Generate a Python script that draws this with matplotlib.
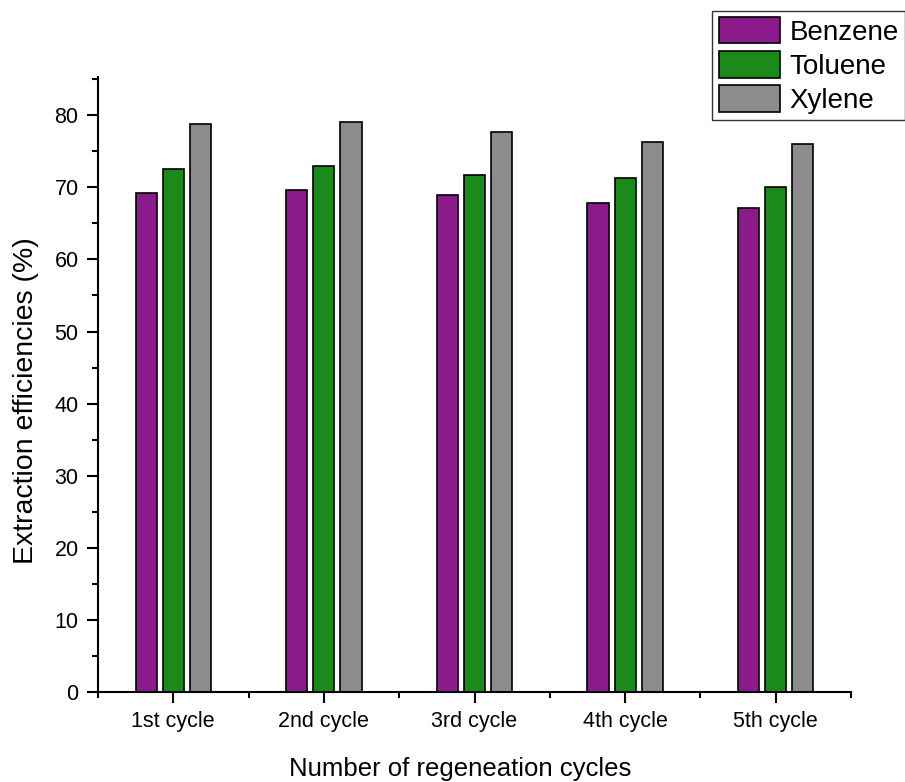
import matplotlib.pyplot as plt
import numpy as np

plt.rcParams['font.family'] = ['Liberation Sans', 'DejaVu Sans']

cycles = ['1st cycle', '2nd cycle', '3rd cycle', '4th cycle', '5th cycle']
benzene = [69.2, 69.6, 68.9, 67.8, 67.1]
toluene = [72.6, 73.0, 71.7, 71.3, 70.1]
xylene = [78.8, 79.0, 77.7, 76.3, 76.0]

colors = ['#8B1A8B', '#1B8A1B', '#8C8C8C']
names = ['Benzene', 'Toluene', 'Xylene']

fig = plt.figure(figsize=(9.05, 7.82), dpi=100)
ax = fig.add_axes([98 / 905, 90 / 782, (851 - 98) / 905, (692 - 77) / 782])

x = np.arange(1, len(cycles) + 1)
width = 0.14
step = 0.18
for i, (vals, c, n) in enumerate(zip([benzene, toluene, xylene], colors, names)):
    ax.bar(x + (i - 1) * step, vals, width, color=c, edgecolor='black',
           linewidth=1.2, label=n)

ax.set_xlim(0.5, 5.5)
ax.set_ylim(0, 85.3)
ax.set_xticks(x)
ax.set_xticklabels(cycles)
ax.set_xticks(np.arange(0.5, 6.0, 1.0), minor=True)
ax.set_yticks(np.arange(0, 81, 10))
ax.set_yticks(np.arange(5, 86, 10), minor=True)

for s in ['top', 'right']:
    ax.spines[s].set_visible(False)
for s in ['left', 'bottom']:
    ax.spines[s].set_linewidth(1.5)

ax.tick_params(axis='both', which='major', direction='out', length=8, width=1.5,
               labelsize=15.5, pad=6)
ax.tick_params(axis='both', which='minor', direction='out', length=4, width=1.5)

ax.set_xlabel('Number of regeneation cycles', fontsize=18.5)
ax.set_ylabel('Extraction efficiencies (%)', fontsize=20.5)
ax.xaxis.set_label_coords(0.481, -0.105)
ax.yaxis.set_label_coords(-0.079, 0.473)

leg = fig.legend(loc='upper right', bbox_to_anchor=(1.0, 0.986), fontsize=20,
                 frameon=True, fancybox=False, edgecolor='black',
                 handlelength=2.23, handleheight=1.08, labelspacing=0.2,
                 handletextpad=0.33, borderpad=0.22, borderaxespad=0.0)
leg.get_frame().set_linewidth(1.0)

fig.savefig('out.png', dpi=100)
